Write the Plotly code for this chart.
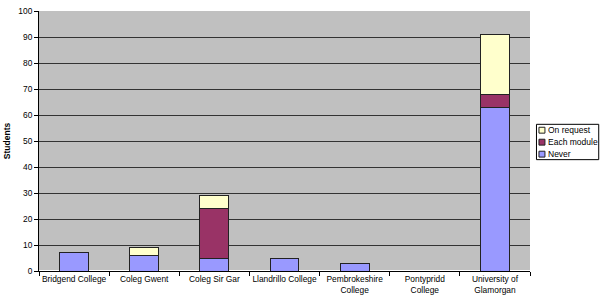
import plotly.graph_objects as go

categories = ["Bridgend College", "Coleg Gwent", "Coleg Sir Gar", "Llandrillo College",
              "Pembrokeshire<br>College", "Pontypridd<br>College", "University of<br>Glamorgan"]
never = [7, 6, 5, 5, 3, 0, 63]
each_module = [0, 0, 19, 0, 0, 0, 5]
on_request = [0, 3, 5, 0, 0, 0, 23]
y_ticks = [0, 10, 20, 30, 40, 50, 60, 70, 80, 90, 100]

series_names = ["Never", "Each module", "On request"]
series_colors = ["#9999FF", "#993366", "#FFFFCC"]
series_values = [never, each_module, on_request]

W, H = 603, 305
L, R, T, B = 37, 73, 6, 34
PW, PH = W - L - R, H - T - B

font = dict(family="Liberation Sans, Arial, sans-serif", size=8.5, color="black")
line = dict(color="#222222", width=1)

fig = go.Figure()
for name, color, vals in zip(series_names, series_colors, series_values):
    fig.add_bar(x=categories, y=vals, name=name, marker=dict(color=color, line=line))

def px_x(p):
    return (p - L) / PW

def px_y(p):
    return (H - B - p) / PH

# compact legend box (Excel-style)
shapes = [dict(type="rect", xref="paper", yref="paper",
               x0=px_x(536.5), x1=px_x(599), y0=px_y(157.5), y1=px_y(121.5),
               line=dict(color="black", width=1), fillcolor="white", layer="above")]
annotations = []
legend_order = list(reversed(range(len(series_names))))
for i, idx in enumerate(legend_order):
    cy = 127.5 + i * 12.2
    shapes.append(dict(type="rect", xref="paper", yref="paper",
                       x0=px_x(539), x1=px_x(545), y0=px_y(cy + 3), y1=px_y(cy - 3),
                       line=dict(color="#222222", width=1), fillcolor=series_colors[idx],
                       layer="above"))
    annotations.append(dict(xref="paper", yref="paper", x=px_x(546), y=px_y(cy),
                            xanchor="left", yanchor="middle", showarrow=False,
                            text=series_names[idx], font=dict(size=8.5)))

fig.update_layout(
    barmode="stack",
    bargap=0.59,
    width=W, height=H,
    margin=dict(l=L, r=R, t=T, b=B),
    paper_bgcolor="white",
    plot_bgcolor="#C0C0C0",
    font=font,
    showlegend=False,
    shapes=shapes,
    annotations=annotations,
    xaxis=dict(type="category", tickson="boundaries", ticks="outside", ticklen=4,
               tickcolor="black", showline=True, linecolor="black", showgrid=False,
               tickangle=0, tickfont=dict(size=8.4)),
    yaxis=dict(range=[0, 100], tickvals=y_ticks, ticks="outside", ticklen=4,
               tickcolor="black", showline=True, linecolor="black",
               gridcolor="#333333", gridwidth=1,
               title=dict(text="<b>Students</b>", font=dict(size=8.5), standoff=6),
               tickfont=dict(size=8.4)),
)

fig.write_html("out.html")
